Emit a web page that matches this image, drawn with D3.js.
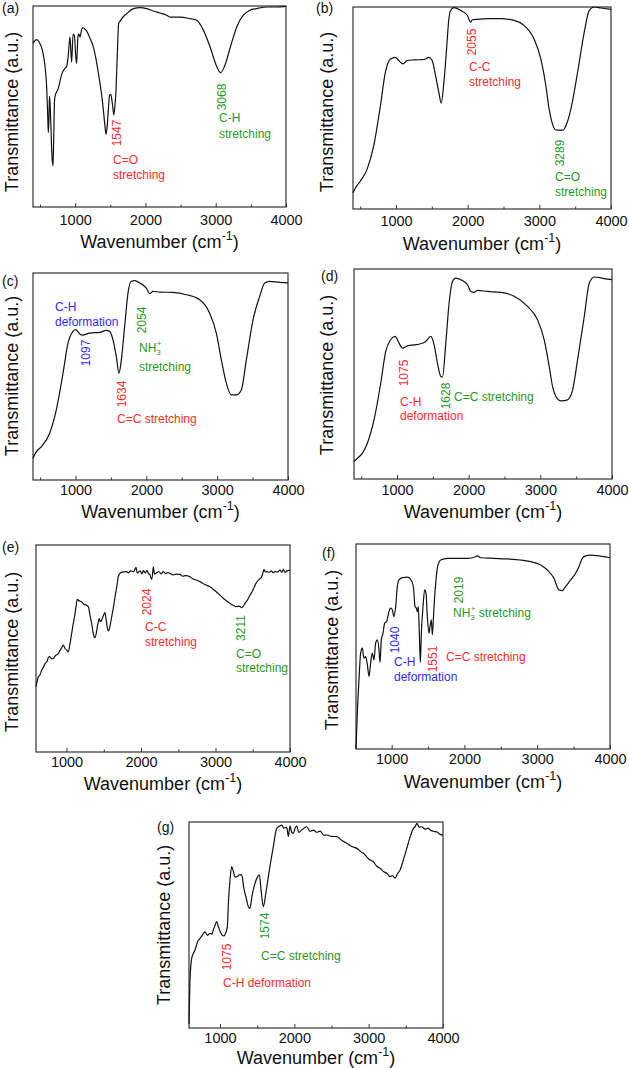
<!DOCTYPE html>
<html><head><meta charset="utf-8">
<script src="https://cdn.jsdelivr.net/npm/d3@7"></script>
<style>
body{margin:0;background:#fff;}
text{font-family:"Liberation Sans",Arial,sans-serif;}
</style></head>
<body><svg id="c" width="629" height="1068"></svg>
<script>
// ---- data: [wavenumber (cm-1), transmittance (a.u., 0-100)] ----
const specA = [[400,81.7],[452,83.3],[490,82],[533,78],[571,70],[594,60],[610,45],[618,37],[628,45],[634,55],[642,52],[655,40],[670,25],[685,20.5],[695,35],[705,52],[713,55],[760,59],[808,66],[855,69],[880,70],[903,76],[926,84.6],[950,72],[970,86],[990,85],[1008,75],[1021,71.4],[1040,85],[1055,86],[1069,84.6],[1090,88],[1107,89.3],[1140,88.5],[1164,87.5],[1210,84],[1258,79.7],[1300,73],[1353,61.5],[1380,55],[1401,48.3],[1425,40],[1439,36.2],[1455,40],[1472,48.3],[1490,55.7],[1505,56],[1519,54],[1535,49.9],[1550,45.8],[1565,50],[1581,58],[1600,76.4],[1619,91.2],[1640,92.5],[1662,93.7],[1733,96.2],[1828,98.7],[1923,99.2],[2017,98.7],[2112,97.5],[2207,96.5],[2302,95.4],[2349,94.5],[2492,94.5],[2634,93.7],[2729,92.9],[2824,88],[2919,79.7],[3013,70],[3070,66.8],[3132,70.6],[3204,79],[3299,89.6],[3393,95.4],[3488,97.9],[3583,98.7],[3725,99.5],[3867,99.5],[4000,99.8]];
const specB = [[400,8],[433,10.4],[503,13.8],[596,19.6],[689,31.2],[782,51],[852,67.7],[922,74.3],[992,75.1],[1039,73.5],[1099,71.8],[1155,73.5],[1249,73.8],[1389,74],[1458,75.1],[1505,73.5],[1552,66],[1598,57.7],[1631,52.4],[1668,62.7],[1706,79.3],[1738,94.2],[1762,98.3],[1808,99.7],[1901,98.3],[1995,95.9],[2041,92.5],[2065,93.7],[2135,93.9],[2275,94.2],[2461,94.2],[2648,93.4],[2787,90.9],[2927,84.2],[3021,74.3],[3091,61],[3137,49.4],[3184,42],[3230,39.1],[3324,39],[3370,41.1],[3440,49.4],[3534,67.7],[3627,87.6],[3697,98.3],[3767,100],[3860,99.5],[4000,98.8]];
const specC = [[400,10.5],[447,13.7],[518,16.1],[635,22.6],[729,33.9],[824,51.6],[894,66.1],[965,71.8],[1002,72.6],[1059,70.6],[1097,70],[1129,70.2],[1200,71],[1341,71.3],[1435,72.3],[1482,71.8],[1529,67.7],[1576,59.7],[1614,51.6],[1647,58],[1694,74.2],[1741,90.3],[1788,96],[1835,96.3],[1906,95.2],[2000,92.7],[2047,90],[2094,91.1],[2188,90.8],[2376,90.6],[2565,89.5],[2753,87.1],[2894,80.6],[2988,71],[3059,58],[3129,46.8],[3200,41.1],[3271,41.1],[3341,43.5],[3412,58],[3506,77.4],[3600,88.7],[3671,95.2],[3741,96],[3882,95.5],[4000,95.2]];
const specD = [[400,8.3],[447,9.9],[516,12.2],[586,17],[679,28.1],[773,45.6],[842,60.7],[912,66.3],[973,67.9],[1029,64.7],[1075,62.3],[1145,63.4],[1238,63.9],[1331,64.4],[1401,65.5],[1471,67.9],[1518,63.9],[1564,55.2],[1611,48.8],[1634,48.5],[1681,64.7],[1727,83.8],[1774,94.1],[1820,95.7],[1890,94.9],[1983,92.5],[2030,89.3],[2077,88.9],[2123,89.8],[2263,89.3],[2449,88.9],[2635,87],[2822,82.2],[2961,75.8],[3054,66.3],[3124,53.6],[3171,44],[3217,39.3],[3287,37.2],[3380,37.7],[3450,42.4],[3520,56.8],[3613,77.4],[3683,93.3],[3753,96.2],[3893,95.4],[4000,94.9]];
const specE = [[590,31.5],[605,34],[621,36.3],[640,37],[666,39.5],[690,41],[711,42.7],[740,44],[760,46],[778,46],[800,45],[823,45.2],[850,46.5],[870,47],[890,47.6],[910,49],[930,50],[957,51.6],[980,50],[1002,49.2],[1024,48.4],[1045,52],[1069,57.3],[1090,62],[1114,66.9],[1130,71],[1145,73.7],[1170,73],[1203,72.6],[1230,71.5],[1261,71],[1293,70.2],[1315,66],[1337,62.1],[1360,57],[1382,55.2],[1400,57.5],[1413,60.5],[1428,63],[1440,64.5],[1455,63],[1472,63.7],[1495,66],[1516,67.3],[1535,63],[1548,60],[1566,58.5],[1585,61],[1606,65.3],[1630,70],[1651,75],[1675,80],[1695,84.7],[1720,86.5],[1740,86.8],[1770,87],[1807,87.1],[1830,86.5],[1860,87.5],[1897,87.1],[1915,88],[1933,89.2],[1950,86.5],[1964,86.8],[1990,87.5],[2010,86],[2031,87.6],[2060,86.5],[2080,87.8],[2098,86.3],[2120,85.5],[2143,83.4],[2155,86],[2165,89.5],[2180,86],[2210,86.6],[2240,87.2],[2270,86],[2299,87.1],[2330,86.2],[2360,86.7],[2389,86.3],[2430,85.6],[2470,85.9],[2523,85.8],[2560,84.9],[2600,85.2],[2657,84.7],[2700,83.6],[2750,83],[2792,82.3],[2850,81],[2926,79.8],[2990,78],[3060,75.8],[3120,73.8],[3194,71.8],[3240,70.8],[3284,70.2],[3320,70.5],[3351,69.7],[3375,70.5],[3396,71.8],[3430,73.5],[3463,75.8],[3500,78],[3530,80.5],[3552,82],[3590,83.5],[3620,84.7],[3640,87],[3651,88.2],[3670,87],[3687,87.1],[3720,86.8],[3750,87.5],[3776,86.6],[3800,87.3],[3830,86.9],[3866,87.9],[3890,86.8],[3910,88.2],[3933,86.8],[3960,87.5],[4000,87.9]];
const specF = [[510,0],[528,17.5],[551,33.8],[574,46.8],[597,49.2],[610,46],[620,44.3],[643,45.1],[666,41.1],[689,35.4],[711,41.9],[734,46.8],[757,43.5],[780,51.6],[803,53.2],[826,48.4],[840,42.2],[858,53.2],[881,56.5],[904,61.4],[931,62.2],[950,65],[963,67],[986,68.7],[1009,67.9],[1032,64.6],[1055,69.5],[1078,79.2],[1101,82.5],[1147,83.6],[1215,83.8],[1261,82.8],[1298,79.2],[1321,69.5],[1339,68.7],[1353,67],[1366,69.5],[1380,56.5],[1394,42.2],[1408,56.5],[1431,69.5],[1453,77.6],[1472,76],[1490,64.6],[1513,56.5],[1527,59.7],[1545,63],[1559,55.7],[1582,69.5],[1605,80.8],[1627,88.1],[1650,91],[1673,92.2],[1765,93],[1902,93],[2040,93],[2154,93.8],[2177,94.2],[2223,93.3],[2406,93],[2589,92.7],[2772,92.2],[2910,91.4],[3047,89.8],[3139,87.3],[3230,83.3],[3299,77.6],[3345,77.3],[3390,79.2],[3459,82.5],[3528,85.7],[3574,89],[3619,93],[3665,94.2],[3734,94.6],[3826,94.3],[3917,93.8],[4000,93.3]];
const specG = [[583,2],[587,8.7],[596,23],[619,33.8],[640,36],[664,37.9],[700,42],[731,43.5],[760,45],[798,46.7],[830,45],[865,46],[890,45.5],[910,47.6],[935,50],[956,51.6],[980,49],[1000,47],[1030,45],[1054,44.7],[1075,46],[1098,49],[1115,62],[1135,72],[1157,78.3],[1180,76],[1200,73.4],[1225,73.4],[1260,74.3],[1292,74.3],[1320,68],[1359,62.1],[1380,59],[1404,58.1],[1430,64],[1471,70.2],[1500,73],[1529,74.3],[1555,66],[1583,58.9],[1615,65],[1650,73.4],[1717,88],[1763,96.9],[1800,98],[1831,98.5],[1860,97],[1898,97.4],[1920,93],[1942,98.1],[1965,95],[1987,94.5],[2010,97],[2032,98.1],[2060,95],[2099,96.1],[2130,97],[2167,97.7],[2210,95.5],[2256,96.1],[2300,95],[2346,95.6],[2400,93.5],[2436,93.7],[2500,93],[2571,92.9],[2640,91],[2705,89.7],[2780,88],[2840,87.2],[2900,85.5],[2929,84.8],[3000,82],[3063,80.7],[3110,78.5],[3154,77.5],[3200,76],[3244,75.1],[3290,73.5],[3320,74],[3356,72.7],[3390,75],[3423,76.7],[3470,82],[3513,87.2],[3560,93],[3602,96.9],[3630,98],[3648,99.4],[3680,97.5],[3715,97.7],[3760,96.5],[3800,97],[3827,96.1],[3870,95.5],[3917,95.2],[3960,94],[4000,93.7]];

const majorTicks = [1000, 2000, 3000, 4000];
const minorTicks = [500, 1500, 2500, 3500];
const panelLabels = ["(a)","(b)","(c)","(d)","(e)","(f)","(g)"];
const xTitle = "Wavenumber (cm";
const yTitle = "Transmittance (a.u.)";

// ---- layout ----
const RED="#ff2b2b", GREEN="#1f9a1f", BLUE="#2b2bff";
const panels = [
 {data:specA, x0:400, box:[33,6,286,207], lab:[2,13], yl:[12,112], xt:242, tk:13},
 {data:specB, x0:400, box:[353,7,611,209], lab:[316,13], yl:[327,112], xt:244, tk:11.5},
 {data:specC, x0:400, box:[33,273,288,480], lab:[2,286], yl:[12,376], xt:512, tk:10},
 {data:specD, x0:400, box:[354,269,612,479], lab:[321,281], yl:[327,375], xt:512, tk:11},
 {data:specE, x0:590, box:[36,545,290,752], lab:[2,552], yl:[12,652], xt:784, tk:10},
 {data:specF, x0:510, box:[356,544,610,749], lab:[322,558], yl:[332,650], xt:782, tk:9.5},
 {data:specG, x0:583, box:[189,822,443,1028], lab:[157,832], yl:[164,925], xt:1058, tk:9.5}
];
// annotations: [panel, text, x, y, color, rotated]
const notes = [
 [0,"1547",117,133,RED,true],[0,"C=O",113,160,RED,false],[0,"stretching",113,175,RED,false],
 [0,"3068",222,97,GREEN,true],[0,"C-H",219,118,GREEN,false],[0,"stretching",219,134,GREEN,false],
 [1,"2055",472,42,RED,true],[1,"C-C",469,67,RED,false],[1,"stretching",469,82,RED,false],
 [1,"3289",560,153,GREEN,true],[1,"C=O",555,177,GREEN,false],[1,"stretching",555,192,GREEN,false],
 [2,"C-H",55,307,BLUE,false],[2,"deformation",55,322,BLUE,false],[2,"1097",86,353,BLUE,true],
 [2,"1634",122,394,RED,true],[2,"C=C stretching",117,419,RED,false],
 [2,"2054",142,320,GREEN,true],[2,"NH3+",139,348,GREEN,false],[2,"stretching",139,367,GREEN,false],
 [3,"1075",404,373,RED,true],[3,"C-H",400,402,RED,false],[3,"deformation",400,416,RED,false],
 [3,"1628",446,396,GREEN,true],[3,"C=C stretching",454,397,GREEN,false],
 [4,"2024",147,602,RED,true],[4,"C-C",145,627,RED,false],[4,"stretching",145,642,RED,false],
 [4,"3211",241,628,GREEN,true],[4,"C=O",236,654,GREEN,false],[4,"stretching",236,668,GREEN,false],
 [5,"2019",459,590,GREEN,true],[5,"NH3+ stretching",453,613,GREEN,false],
 [5,"1040",395,640,BLUE,true],[5,"C-H",394,662,BLUE,false],[5,"deformation",394,677,BLUE,false],
 [5,"1551",433,659,RED,true],[5,"C=C stretching",446,657,RED,false],
 [6,"1574",265,926,GREEN,true],[6,"C=C stretching",261,956,GREEN,false],
 [6,"1075",227,957,RED,true],[6,"C-H deformation",223,983,RED,false]
];

const svg = d3.select("#c");

panels.forEach((p,i)=>{
  const [L,T,R,B] = p.box;
  const x = d3.scaleLinear().domain([p.x0,4000]).range([L,R]);
  const y = d3.scaleLinear().domain([0,100]).range([B,T]);
  const g = svg.append("g");

  // major ticks (inward) + labels
  const ax = d3.axisBottom(x).tickValues(majorTicks).tickFormat(d3.format("d"))
    .tickSizeInner(-4).tickSizeOuter(0).tickPadding(p.tk - 5.2);
  const axg = g.append("g").attr("transform",`translate(0,${B})`).call(ax);
  axg.select(".domain").remove();
  axg.selectAll("line").attr("stroke","#333");
  axg.selectAll("text").attr("font-size","14.5px").attr("fill","#111")
     .attr("font-family","Liberation Sans, Arial, sans-serif");
  // minor ticks
  const mi = minorTicks.filter(v=>v>=p.x0);
  const ax2 = d3.axisBottom(x).tickValues(mi).tickSizeInner(-2.5).tickSizeOuter(0).tickFormat("");
  const axg2 = g.append("g").attr("transform",`translate(0,${B})`).call(ax2);
  axg2.select(".domain").remove();
  axg2.selectAll("line").attr("stroke","#333");

  // frame
  g.append("rect").attr("x",L).attr("y",T).attr("width",R-L).attr("height",B-T)
    .attr("fill","none").attr("stroke","#333").attr("stroke-width",1.2);

  // curve
  const line = d3.line().x(d=>x(d[0])).y(d=>y(d[1])).curve(d3.curveMonotoneX);
  g.append("path").datum(p.data).attr("d",line).attr("fill","none")
    .attr("stroke","#111").attr("stroke-width",1.2).attr("stroke-linejoin","round");

  // panel label
  g.append("text").attr("x",p.lab[0]).attr("y",p.lab[1]).text(panelLabels[i])
    .attr("font-family","Liberation Serif, Times New Roman, serif").attr("font-size","14px").attr("fill","#111");

  // y title
  g.append("text").attr("transform",`translate(${p.yl[0]},${p.yl[1]}) rotate(-90)`)
    .attr("text-anchor","middle").attr("dominant-baseline","central")
    .attr("font-size","18px").attr("fill","#111").text(yTitle);

  // x title
  const xt = g.append("text").attr("x",(L+R)/2).attr("y",p.xt).attr("text-anchor","middle")
    .attr("dominant-baseline","central").attr("font-size","18px").attr("fill","#111");
  xt.append("tspan").text(xTitle);
  xt.append("tspan").attr("font-size","12.5px").attr("dy","-6").text("-1");
  xt.append("tspan").attr("dy","6").text(")");
});

notes.forEach(n=>{
  const [pi,txt,nx,ny,col,rot] = n;
  if (rot) {
    svg.append("text").attr("transform",`translate(${nx},${ny}) rotate(-90)`)
      .attr("text-anchor","middle").attr("dominant-baseline","central")
      .attr("font-size","12px").attr("fill",col).text(txt);
  } else if (txt.startsWith("NH3+")) {
    const t = svg.append("text").attr("x",nx).attr("y",ny).attr("dominant-baseline","central")
      .attr("font-size","12px").attr("fill",col);
    t.append("tspan").text("NH");
    t.append("tspan").attr("font-size","8px").attr("dy","4").text("3");
    t.append("tspan").attr("font-size","8px").attr("dx","-4").attr("dy","-9").text("+");
    t.append("tspan").attr("dy","5").text(txt.slice(4));
  } else {
    svg.append("text").attr("x",nx).attr("y",ny).attr("dominant-baseline","central")
      .attr("font-size","12px").attr("fill",col).text(txt);
  }
});
</script></body></html>
